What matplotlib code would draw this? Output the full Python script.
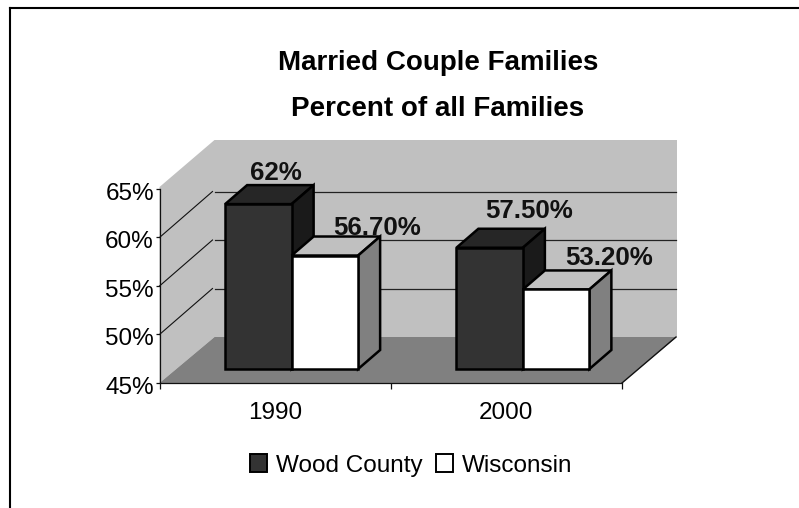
import matplotlib
matplotlib.use("Agg")
import matplotlib.pyplot as plt
from matplotlib.lines import Line2D
from matplotlib.patches import Patch, Polygon
from matplotlib.transforms import ScaledTranslation

plt.rcParams['font.family'] = ['Liberation Sans', 'DejaVu Sans']

categories = ['1990', '2000']
series_names = ['Wood County', 'Wisconsin']
wood_county = [62.0, 57.5]
wisconsin = [56.7, 53.2]
label_wood = ['62%', '57.50%']
label_wisconsin = ['56.70%', '53.20%']
y_ticks = [45, 50, 55, 60, 65]
y_tick_labels = ['45%', '50%', '55%', '60%', '65%']
title_lines = ['Married Couple Families', 'Percent of all Families']

W, H = 799, 508
fig = plt.figure(figsize=(W / 100, H / 100), dpi=100, facecolor='white')
L, R, T, B = 159.5, 622.0, 189.0, 383.0
ax = fig.add_axes([L / W, 1 - B / H, (R - L) / W, (B - T) / H])
ax.set_xlim(0, 2)
ax.set_ylim(45, 65)
ax.patch.set_visible(False)

ux = (R - L) / 2      # px per category
uy = (B - T) / 20     # px per percent


def px(dx, dy):
    return dx / ux, dy / uy


# walls and floor
wdx, wdy = px(55, 46)
_, wtop = px(0, 3)
_, ftop = px(0, 2)
ax.add_patch(Polygon([(0, 45), (0, 65 + ftop), (wdx, 65 + wdy + wtop), (2 + wdx, 65 + wdy + wtop),
                      (2 + wdx, 45 + wdy), (wdx, 45 + wdy)],
                     fc='#C0C0C0', ec='none', clip_on=False, zorder=1))
ax.add_patch(Polygon([(0, 45), (2, 45), (2 + wdx, 45 + wdy), (wdx, 45 + wdy)],
                     fc='#808080', ec='none', clip_on=False, zorder=1.1))
ax.plot([2, 2 + wdx - 1 / ux], [45, 45 + wdy], color='#111111', lw=1.0, clip_on=False, zorder=1.2)

# gridlines
gdx, gdy = px(53, 46)
gap, _ = px(2.5, 0)
for t in y_ticks[1:-1]:
    ax.plot([0, gdx], [t, t + gdy], color='#111111', lw=0.8, clip_on=False, zorder=1.2)
    ax.plot([gdx + gap, 2 + wdx - 1 / ux], [t + wdy, t + wdy], color='#222222', lw=0.9,
            clip_on=False, zorder=1.2)

# bars
bw = 66.5 / ux
ox, oy = px(16.5, 14)
sx, sy = px(22, 19)
lw = 1.8


def box(x, v, front, top, side, z):
    b = 45 + oy
    t = v + oy
    l = x + ox
    r = l + bw
    ax.add_patch(Polygon([(l, t), (r, t), (r + sx, t + sy), (l + sx, t + sy)], fc=top, ec='black',
                         lw=lw, clip_on=False, zorder=z, joinstyle='miter'))
    ax.add_patch(Polygon([(r, b), (r + sx, b + sy), (r + sx, t + sy), (r, t)], fc=side, ec='black',
                         lw=lw, clip_on=False, zorder=z, joinstyle='miter'))
    ax.bar(l, v - 45, bottom=b, width=bw, align='edge', fc=front, ec='black', lw=lw,
           clip_on=False, zorder=z + 0.1)


for i in range(len(categories)):
    box(i + 0.5 - bw, wood_county[i], '#333333', '#262626', '#1A1A1A', 2 + i)
    box(i + 0.5, wisconsin[i], '#FFFFFF', '#C0C0C0', '#808080', 2.3 + i)

# data labels
all_vals = wood_county + wisconsin
all_x = [0.5 - bw, 1.5 - bw, 0.5, 1.5]
all_lab = label_wood + label_wisconsin
centres = [(276, 173.5), (529, 211.5), (377, 228.5), (609, 258.5)]
for v, x, s, c in zip(all_vals, all_x, all_lab, centres):
    px_x = L + (x + ox) * ux
    px_y = B - (v + oy - 45) * uy
    ax.annotate(s, (x + ox, v + oy), xytext=((c[0] - px_x) * 0.72, -(c[1] - px_y) * 0.72),
                textcoords='offset points', ha='center', va='center', fontsize=18.6,
                fontweight='bold', color='#111111', zorder=10, annotation_clip=False)

# axes
for s in ['top', 'right']:
    ax.spines[s].set_visible(False)
for s in ['left', 'bottom']:
    ax.spines[s].set_linewidth(0.9)
    ax.spines[s].set_color('#111111')
    ax.spines[s].set_zorder(1.5)
ax.set_yticks(y_ticks, y_tick_labels, fontsize=17.5)
ax.tick_params(axis='y', length=3, width=0.9, pad=1, color='#111111')
shift = ScaledTranslation(0, -1.5 / 72, fig.dpi_scale_trans)
for lab in ax.get_yticklabels():
    lab.set_transform(lab.get_transform() + shift)
ax.set_xticks([0, 1, 2], ['', '', ''])
ax.set_xticks([0.5, 1.5], categories, minor=True, fontsize=17.5)
ax.tick_params(axis='x', which='major', length=4.5, width=0.9, color='#111111')
ax.tick_params(axis='x', which='minor', length=0, pad=13.5)

# title
for s, y in zip(title_lines, [63, 109]):
    fig.text(438 / W, 1 - y / H, s, ha='center', va='center', fontsize=20, fontweight='bold', color='black')

# legend
handles = [Patch(fc='#333333', ec='black', lw=1.4), Patch(fc='white', ec='black', lw=1.4)]
fig.legend(handles, series_names, loc='center', bbox_to_anchor=(411 / W, 1 - 465.5 / H), ncols=2, frameon=False,
           fontsize=17.5, handlelength=0.72, handleheight=0.72, handletextpad=0.35, columnspacing=0.55,
           borderpad=0, borderaxespad=0)

# chart-area border, running off the right and bottom of the picture
fig.add_artist(Line2D([9.5 / W, 9.5 / W], [0, 1 - 7.5 / H], color='black', lw=1.5, solid_capstyle='projecting'))
fig.add_artist(Line2D([9.5 / W, 1], [1 - 7.5 / H, 1 - 7.5 / H], color='black', lw=1.5, solid_capstyle='projecting'))

fig.savefig('out.png', dpi=100)
